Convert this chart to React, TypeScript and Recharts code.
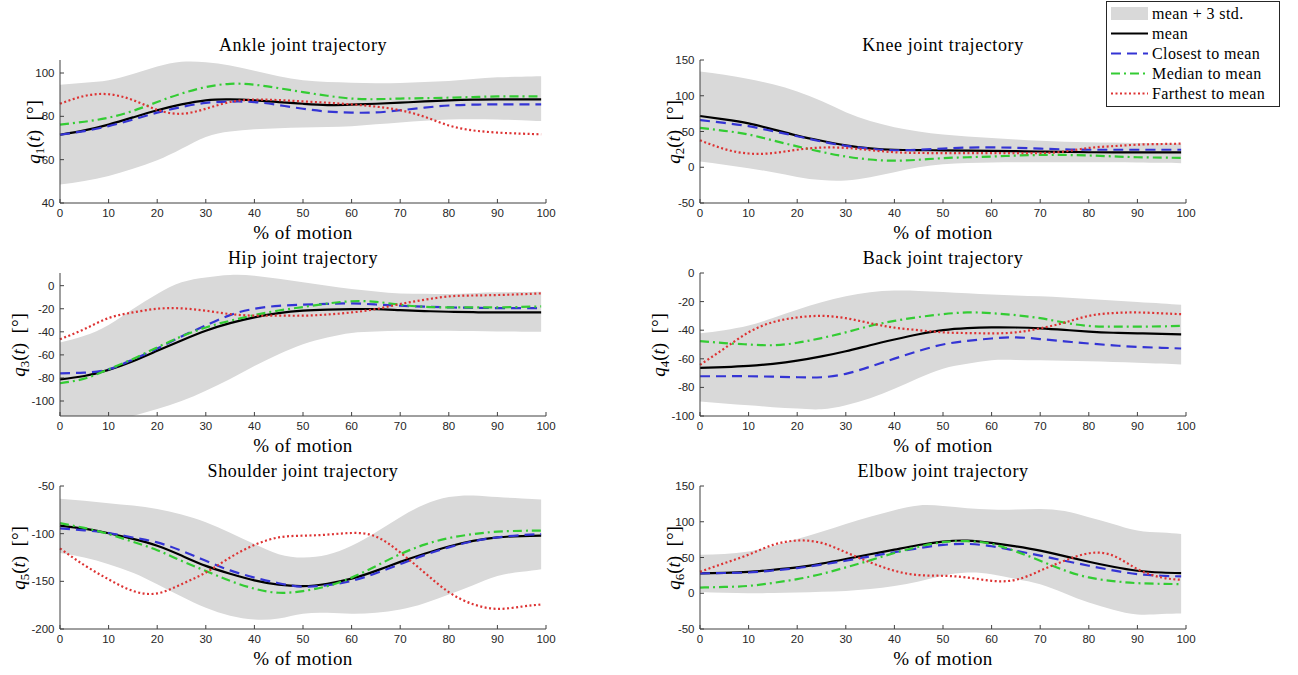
import { ComposedChart, Area, Line, XAxis, YAxis } from 'recharts'

const SERIF = '"Liberation Serif", "Times New Roman", serif'
const SANS = '"Liberation Sans", Arial, sans-serif'

// % of motion samples shared by every joint
const PCT = [0, 5, 10, 15, 20, 25, 30, 35, 40, 45, 50, 55, 60, 65, 70, 75, 80, 85, 90, 95, 99]
const X_TICKS = [0, 10, 20, 30, 40, 50, 60, 70, 80, 90, 100]

// Ankle
const ankleUpper = [94.6, 95.5, 96.6, 99.5, 103, 105.2, 105, 103.5, 101, 98.5, 96.6, 95.8, 95.5, 95.3, 95.4, 95.8, 96.3, 97.2, 98, 98.3, 98.5]
const ankleLower = [48.5, 50.2, 52.5, 55.8, 59.7, 65, 70.5, 73, 74, 74.5, 74.8, 75.1, 75.4, 76.3, 77.2, 78, 78.5, 78.6, 78.5, 78.2, 77.8]
const ankleMean = [71.5, 73.5, 76.2, 79.5, 82.8, 85.5, 87.4, 87.8, 87.4, 86.6, 85.8, 85.2, 85.4, 85.8, 86.3, 86.9, 87.4, 87.7, 87.8, 87.8, 87.8]
const ankleClosest = [71.5, 73.2, 75.5, 78.5, 81.7, 84.3, 86.2, 86.8, 86.6, 85.2, 83.5, 82.2, 81.7, 81.8, 82.8, 84, 85, 85.4, 85.5, 85.5, 85.5]
const ankleMedian = [76.2, 77.5, 79.4, 82.5, 86.6, 90.5, 93.5, 95, 94.6, 93, 91.2, 89.5, 88.2, 87.9, 88.2, 88.4, 88.6, 88.9, 89.2, 89.2, 89.2]
const ankleFarthest = [85.8, 89.4, 90.2, 87.5, 83, 81.2, 83.5, 86.6, 87.7, 87.5, 86.9, 86.3, 85.5, 84.5, 82.8, 79.8, 75.8, 73.5, 72.5, 72, 71.7]

// Knee
const kneeUpper = [134, 129.5, 123.6, 116, 106, 92.5, 77, 64.6, 56, 50, 45.8, 43, 41, 38.8, 37, 35.8, 35, 34.5, 34, 33.5, 33]
const kneeLower = [8, 3.5, -1.4, -7, -13.5, -18, -18.5, -14, -7, 0, 4.2, 5.8, 6.6, 7, 7, 7, 7, 7, 6.6, 6.2, 5.7]
const kneeMean = [71.7, 67, 61.3, 53, 44.3, 37, 30.7, 26.5, 24.5, 24, 23.6, 23.3, 23, 22.5, 22, 21.5, 21, 20.9, 20.8, 20.8, 20.8]
const kneeClosest = [66, 62, 57.5, 50.5, 43.4, 36, 30, 26, 23.8, 24.5, 26, 27.5, 27.8, 27.2, 26, 25, 24.5, 24.5, 24.5, 24.5, 24.5]
const kneeMedian = [55, 51, 45.8, 37.5, 29.2, 21.5, 15, 10.8, 9.2, 10.5, 12.7, 14, 15, 16.3, 17.2, 17.2, 16.5, 15.2, 14, 13.5, 13]
const kneeFarthest = [37.7, 25.5, 19.2, 19.8, 24.5, 27.5, 27, 24, 21, 20, 19.8, 19.8, 19.8, 19.8, 19.8, 22, 27, 29.5, 31.6, 32.5, 33]

// Hip
const hipUpper = [-49.3, -43.5, -34, -20.3, -7.2, 2.9, 7.2, 9.3, 8.7, 6, 2.9, 0, -2.9, -5, -6.7, -7, -7.2, -6.5, -5.8, -5.5, -5.2]
const hipLower = [-125, -122, -118, -113, -107, -100, -91, -81, -69.6, -59.4, -50.7, -45, -41, -39.8, -39.1, -39, -39.1, -39.4, -39.7, -39.9, -40]
const hipMean = [-81.2, -78.3, -73, -65.5, -56.5, -47.5, -39.1, -32.5, -27.5, -23.8, -21.7, -20.8, -20.3, -20.3, -21.2, -22, -22.6, -23, -23.2, -23.2, -23.2]
const hipClosest = [-76, -75.4, -72.5, -64, -54.5, -44, -34.5, -25.5, -20, -17.5, -16.5, -15.8, -15.4, -16.3, -17.4, -18.2, -18.8, -19.2, -19.4, -19.4, -19.4]
const hipMedian = [-84.6, -80.6, -72.5, -63.5, -53.5, -44, -36.2, -30.4, -25.5, -21.5, -18.5, -15.5, -13.5, -14, -16.5, -18.3, -18.8, -18.8, -18.8, -18.4, -18]
const hipFarthest = [-46.4, -37.7, -28.1, -23.2, -20, -19.7, -21.7, -24.6, -26, -26, -26, -25, -23.2, -20.3, -15.9, -12.2, -9.3, -8.5, -8.1, -7.4, -6.7]

// Back
const backUpper = [-42.2, -40, -36.8, -31.5, -25.7, -20.5, -16.3, -13.5, -12.3, -12.5, -13.2, -14.2, -15.1, -15.7, -16.3, -17.2, -18.2, -19.2, -20.3, -21.3, -22.2]
const backLower = [-89.9, -91.2, -92.5, -93.8, -94.8, -95.3, -92.5, -87.5, -81, -73.5, -66.9, -63.5, -61, -60.8, -61, -61.4, -61.8, -62.2, -62.7, -63.3, -63.9]
const backMean = [-66.3, -65.8, -65, -63.5, -61.3, -58.3, -54.7, -50.5, -46.5, -42.8, -39.9, -38.5, -38, -38.1, -38.7, -39.8, -41, -41.8, -42.2, -42.6, -42.9]
const backClosest = [-72.2, -72.2, -72.2, -72.5, -72.9, -72.9, -70.5, -65.5, -59.9, -54.5, -50, -47.5, -45.8, -45, -46.2, -47.8, -49.3, -50.6, -51.7, -52.3, -52.8]
const backMedian = [-47.6, -49, -50, -50.5, -48.8, -45.5, -41.5, -37, -33.5, -30.8, -28.8, -27.6, -28.1, -29.5, -31.6, -34.7, -37, -37.5, -37.5, -37.3, -37]
const backFarthest = [-64.2, -52.8, -41.5, -34.4, -31.1, -30, -31.6, -35.1, -38.2, -40, -41.5, -42, -42.2, -41.5, -38.7, -34.7, -30, -28, -27.6, -28.2, -28.8]

// Shoulder
const shoulderUpper = [-63.4, -65.5, -68, -70.5, -74, -80, -88, -99, -110.9, -121.5, -125, -122.2, -112.7, -98.6, -82.7, -69.4, -61.6, -59.9, -61.6, -63, -64.1]
const shoulderLower = [-120.4, -125, -132, -141, -153, -166, -177.8, -186, -190.1, -189, -184, -183, -184, -183, -179.6, -173, -163.7, -154, -144.4, -140, -137.3]
const shoulderMean = [-91.5, -94.8, -99.6, -105.5, -112.7, -123, -133.8, -142, -149, -153.5, -155, -152.5, -147.2, -139, -129.6, -121, -113.4, -107.5, -103.9, -102.5, -102.1]
const shoulderClosest = [-94.4, -96.5, -99.3, -104, -109.2, -118, -128.5, -138.5, -146.1, -152, -155.6, -154, -149.6, -141.5, -132, -122.5, -114.4, -108, -103.9, -101.5, -100.4]
const shoulderMedian = [-89, -94, -100.4, -108.5, -117.3, -128.5, -139.1, -149.5, -157.7, -162, -160.2, -155, -146.1, -134, -121.5, -111.5, -104.6, -100.5, -97.9, -97, -96.8]
const shoulderFarthest = [-115.5, -133, -147.9, -160, -162.7, -153, -140.8, -125, -111.9, -103.9, -102.1, -101, -99.3, -103, -119.7, -140.8, -161.3, -174, -178.9, -176.5, -174.3]

// Elbow
const elbowUpper = [53.8, 55, 58.5, 66, 75.8, 86, 97, 107, 116, 122.8, 122, 119, 117, 117, 118, 115, 106.3, 97, 87.8, 85, 83]
const elbowLower = [1.9, 0.8, 0, 0.2, 0.9, 2, 3.3, 6, 10.3, 16.5, 24.4, 29, 26.7, 20, 12.7, 0, -13.1, -23, -29.6, -29, -28.2]
const elbowMean = [27.7, 28.5, 30, 32.8, 36.2, 41.5, 47.9, 54.5, 61, 67.5, 72.3, 73.7, 70.4, 65.5, 59.6, 52, 44.1, 37, 31.5, 29, 28.2]
const elbowClosest = [27.7, 28.3, 29, 31.8, 35.2, 40, 45.5, 51.5, 57.3, 63, 67.6, 69, 65.7, 59.5, 52.6, 45.5, 38.5, 32, 26.8, 24.5, 23.5]
const elbowMedian = [8, 8.8, 10.3, 14.5, 19.7, 27, 36.2, 46, 56.3, 65, 71.4, 72.8, 69, 58.5, 45.5, 32, 22.1, 17, 14.1, 13.2, 12.7]
const elbowFarthest = [30, 42, 54, 67.6, 73.7, 70.4, 57.3, 43.2, 31.5, 25.4, 24.4, 22, 17.4, 18.8, 31.5, 45.5, 55.9, 52.6, 33.8, 22, 18.8]

const BAND = '#d9d9d9'
const MEAN = '#000000'
const CLOSEST = '#3434d4'
const MEDIAN = '#33cc33'
const FARTHEST = '#dd3333'

const PLOT_H = 143
const TOP_PAD = 20

interface Joint {
  title: string
  idx: number
  upper: number[]
  lower: number[]
  mean: number[]
  closest: number[]
  median: number[]
  farthest: number[]
  domain: [number, number]
  ticks: number[]
  left: number
  plotTop: number
  labelGap: number
}

const joints: Joint[] = [
  { title: 'Ankle joint trajectory', idx: 1, upper: ankleUpper, lower: ankleLower, mean: ankleMean, closest: ankleClosest, median: ankleMedian, farthest: ankleFarthest, domain: [40, 106], ticks: [40, 60, 80, 100], left: 0, plotTop: 60, labelGap: 25 },
  { title: 'Knee joint trajectory', idx: 2, upper: kneeUpper, lower: kneeLower, mean: kneeMean, closest: kneeClosest, median: kneeMedian, farthest: kneeFarthest, domain: [-50, 150], ticks: [-50, 0, 50, 100, 150], left: 640, plotTop: 60, labelGap: 25 },
  { title: 'Hip joint trajectory', idx: 3, upper: hipUpper, lower: hipLower, mean: hipMean, closest: hipClosest, median: hipMedian, farthest: hipFarthest, domain: [-113, 11], ticks: [-100, -80, -60, -40, -20, 0], left: 0, plotTop: 273, labelGap: 40 },
  { title: 'Back joint trajectory', idx: 4, upper: backUpper, lower: backLower, mean: backMean, closest: backClosest, median: backMedian, farthest: backFarthest, domain: [-100, 0], ticks: [-100, -80, -60, -40, -20, 0], left: 640, plotTop: 273, labelGap: 40 },
  { title: 'Shoulder joint trajectory', idx: 5, upper: shoulderUpper, lower: shoulderLower, mean: shoulderMean, closest: shoulderClosest, median: shoulderMedian, farthest: shoulderFarthest, domain: [-200, -50], ticks: [-200, -150, -100, -50], left: 0, plotTop: 486, labelGap: 40 },
  { title: 'Elbow joint trajectory', idx: 6, upper: elbowUpper, lower: elbowLower, mean: elbowMean, closest: elbowClosest, median: elbowMedian, farthest: elbowFarthest, domain: [-50, 150], ticks: [-50, 0, 50, 100, 150], left: 640, plotTop: 486, labelGap: 25 },
]

const tickStyle = { fill: '#262626', fontSize: 11.5, fontFamily: SANS }

function JointPanel({ j }: { j: Joint }) {
  const rows = PCT.map((x, i) => ({
    x,
    band: [j.lower[i], j.upper[i]],
    mean: j.mean[i],
    closest: j.closest[i],
    median: j.median[i],
    farthest: j.farthest[i],
  }))

  return (
    <div style={{ position: 'absolute', left: j.left, top: j.plotTop - TOP_PAD, width: 640, height: 230 }}>
      <ComposedChart width={640} height={TOP_PAD + PLOT_H + 30} data={rows} margin={{ top: TOP_PAD, right: 94, bottom: 0, left: 0 }}>
        <XAxis
          dataKey="x"
          type="number"
          domain={[0, 100]}
          ticks={X_TICKS}
          interval={0}
          height={30}
          tickSize={-4}
          tickMargin={10}
          stroke="#404040"
          tick={tickStyle}
        />
        <YAxis
          type="number"
          domain={j.domain}
          ticks={j.ticks}
          interval={0}
          allowDataOverflow
          width={60}
          tickSize={-4}
          tickMargin={9.5}
          stroke="#404040"
          tick={tickStyle}
        />
        <Area dataKey="band" type="natural" fill={BAND} fillOpacity={1} stroke="none" isAnimationActive={false} />
        <Line dataKey="mean" type="natural" stroke={MEAN} strokeWidth={2.2} dot={false} isAnimationActive={false} />
        <Line dataKey="closest" type="natural" stroke={CLOSEST} strokeWidth={2.2} strokeDasharray="10 6" dot={false} isAnimationActive={false} />
        <Line dataKey="median" type="natural" stroke={MEDIAN} strokeWidth={2.2} strokeDasharray="9 4 2 4" dot={false} isAnimationActive={false} />
        <Line dataKey="farthest" type="natural" stroke={FARTHEST} strokeWidth={2.2} strokeDasharray="2 2.5" dot={false} isAnimationActive={false} />
      </ComposedChart>

      <div style={{ position: 'absolute', left: 303, top: TOP_PAD - 15, transform: 'translate(-50%, -50%)', whiteSpace: 'nowrap', fontFamily: SERIF, fontSize: 18, letterSpacing: 0.6, color: '#000' }}>
        {j.title}
      </div>
      <div style={{ position: 'absolute', left: 303, top: TOP_PAD + PLOT_H + 30, transform: 'translate(-50%, -50%)', whiteSpace: 'nowrap', fontFamily: SERIF, fontSize: 19, letterSpacing: 0.4, color: '#000' }}>
        % of motion
      </div>
      <div style={{ position: 'absolute', left: 60 - j.labelGap, top: TOP_PAD + PLOT_H / 2, transform: 'translate(-50%, -50%) rotate(-90deg)', whiteSpace: 'nowrap', fontFamily: SERIF, fontSize: 19, lineHeight: 1, color: '#000' }}>
        <i>q</i>
        <sub style={{ fontSize: 13, verticalAlign: '-4px' }}>{j.idx}</sub>(<i>t</i>)&nbsp;&nbsp;[°]
      </div>
    </div>
  )
}

const legendItems = [
  { label: 'mean + 3 std.', kind: 'band', color: BAND, dash: '' },
  { label: 'mean', kind: 'line', color: MEAN, dash: '' },
  { label: 'Closest to mean', kind: 'line', color: CLOSEST, dash: '10 6' },
  { label: 'Median to mean', kind: 'line', color: MEDIAN, dash: '9 4 2 4' },
  { label: 'Farthest to mean', kind: 'line', color: FARTHEST, dash: '2 2.5' },
]

function LegendBox() {
  return (
    <svg width={174} height={106} style={{ position: 'absolute', left: 1106, top: 1 }}>
      <rect x={0.5} y={0.5} width={173} height={105} fill="#fff" stroke="#262626" strokeWidth={1} />
      {legendItems.map((it, i) => {
        const cy = 12.5 + i * 20
        return (
          <g key={it.label}>
            {it.kind === 'band' ? (
              <rect x={5} y={cy - 6.5} width={37} height={13} fill={it.color} />
            ) : (
              <line x1={5} x2={42} y1={cy} y2={cy} stroke={it.color} strokeWidth={2.2} strokeDasharray={it.dash || undefined} />
            )}
            <text x={46} y={cy + 5} fontFamily={SERIF} fontSize={16} letterSpacing={0.4} fill="#000">
              {it.label}
            </text>
          </g>
        )
      })}
    </svg>
  )
}

export default function App() {
  return (
    <div style={{ position: 'absolute', left: 0, top: 0, width: 1298, height: 675, background: '#fff', overflow: 'hidden' }}>
      {joints.map((j) => (
        <JointPanel key={j.title} j={j} />
      ))}
      <LegendBox />
    </div>
  )
}
